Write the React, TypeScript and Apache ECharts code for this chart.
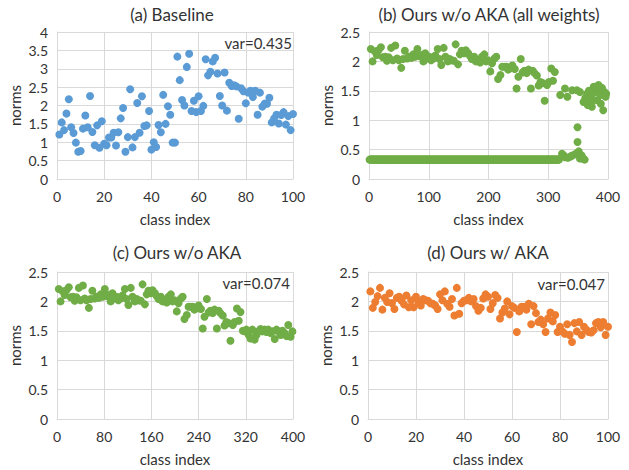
import React, { useEffect, useRef } from "react";
import * as echarts from "echarts";

// (a) Baseline: norms for class index 1..100
const aNorms = [
  1.21, 1.54, 1.33, 1.78, 2.17, 1.41, 1.25, 0.99, 0.74, 0.76,
  1.37, 1.73, 1.41, 2.26, 1.28, 0.92, 1.46, 0.85, 1.57, 0.96,
  0.92, 1.13, 1.13, 1.26, 0.91, 1.27, 1.65, 1.93, 0.74, 1.14,
  2.44, 0.86, 1.14, 2.07, 1.26, 2.25, 1.44, 1.46, 1.85, 0.8,
  1.0, 0.87, 1.47, 1.27, 2.29, 1.5, 1.98, 1.75, 0.99, 0.99,
  3.33, 2.69, 2.15, 2.0, 3.05, 3.41, 1.85, 2.13, 1.82, 2.25,
  1.85, 1.99, 3.26, 2.82, 2.92, 3.2, 3.3, 2.87, 2.26, 2.0,
  2.9, 1.86, 2.62, 2.53, 2.55, 2.52, 1.64, 2.47, 2.39, 2.06,
  2.35, 2.4, 2.23, 2.4, 1.75, 2.35, 1.97, 2.05, 2.05, 2.21,
  1.54, 1.65, 1.75, 1.51, 1.74, 1.82, 1.48, 1.71, 1.33, 1.77,
];

// (d) Ours w/ AKA: norms for class index 1..100
const dNorms = [
  2.17, 1.89, 1.99, 2.09, 2.23, 1.86, 2.06, 1.99, 2.14, 1.97,
  1.87, 2.06, 2.08, 2.01, 1.95, 2.1, 1.9, 2.02, 1.9, 2.08,
  1.99, 1.93, 2.04, 2.02, 2.01, 1.97, 1.96, 1.93, 1.87, 2.12,
  2.02, 2.17, 1.96, 1.91, 2.04, 1.76, 2.23, 1.79, 1.97, 2.01,
  2.02, 2.06, 2.0, 2.04, 1.92, 1.84, 1.89, 2.05, 2.12, 2.08,
  1.87, 1.97, 2.11, 2.06, 1.71, 1.81, 1.88, 2.0, 1.78, 1.92,
  1.89, 1.48, 1.83, 1.91, 1.91, 1.86, 1.96, 1.61, 1.92, 1.8,
  1.65, 1.69, 1.61, 1.48, 1.71, 1.81, 1.66, 1.77, 1.48, 1.57,
  1.49, 1.45, 1.61, 1.43, 1.31, 1.63, 1.49, 1.65, 1.43, 1.57,
  1.52, 1.48, 1.47, 1.51, 1.63, 1.65, 1.56, 1.65, 1.43, 1.57,
];

// (c) Ours w/o AKA: [class index, norm]
const cPoints: [number, number][] = [
  [3, 2.21], [6, 2.0], [10, 2.17], [13, 2.11], [16, 2.19], [20, 2.24], [23, 2.07], [27, 2.08],
  [30, 2.01], [33, 2.07], [37, 2.23], [40, 2.02], [44, 2.27], [47, 2.05], [50, 2.02], [54, 1.89],
  [57, 2.04], [60, 2.18], [64, 2.05], [67, 2.08], [71, 2.06], [74, 2.12], [77, 2.08], [81, 2.21],
  [84, 2.09], [88, 2.11], [91, 2.0], [94, 2.14], [98, 2.05], [101, 2.08], [104, 2.02], [108, 2.05],
  [111, 2.1], [115, 2.21], [118, 2.04], [121, 1.94], [125, 2.23], [128, 2.08], [132, 2.0], [135, 2.04],
  [138, 2.02], [142, 2.01], [145, 2.29], [149, 1.95], [152, 2.12], [155, 2.18], [159, 2.14], [162, 2.19],
  [166, 2.14], [169, 2.09], [172, 2.04], [176, 2.08], [179, 2.0], [182, 2.02], [186, 1.98], [189, 2.08],
  [193, 2.12], [196, 2.0], [199, 2.02], [203, 1.83], [206, 1.97], [210, 2.05], [213, 2.08], [216, 1.7],
  [220, 1.77], [223, 1.91], [227, 1.91], [230, 1.91], [233, 1.86], [237, 1.89], [240, 1.93], [244, 1.87],
  [247, 1.54], [250, 1.74], [254, 2.04], [257, 1.81], [260, 1.84], [264, 1.8], [267, 1.86], [271, 1.54],
  [274, 1.84], [277, 1.8], [281, 1.76], [284, 1.59], [287, 1.65], [291, 1.63], [294, 1.33], [298, 1.6],
  [301, 1.65], [305, 1.88], [308, 1.67], [311, 1.82], [315, 1.5], [318, 1.49], [321, 1.52], [325, 1.43],
  [328, 1.37], [331, 1.52], [335, 1.35], [338, 1.43], [341, 1.49], [345, 1.53], [348, 1.49], [352, 1.52],
  [355, 1.48], [358, 1.52], [362, 1.46], [365, 1.49], [369, 1.36], [372, 1.52], [375, 1.49], [379, 1.43],
  [382, 1.5], [386, 1.46], [389, 1.41], [392, 1.6], [396, 1.4], [399, 1.49],
];

// (b) Ours w/o AKA (all weights): upper-cluster tail beyond class 311
const bUpperTail: [number, number][] = [
  [320, 1.43], [328, 1.54], [332, 1.4], [340, 1.51], [348, 1.51], [353, 1.48], [359, 1.31],
  [365, 1.45], [366, 1.26], [370, 1.4], [373, 1.23], [376, 1.57], [379, 1.48], [382, 1.34],
  [384, 1.6], [387, 1.43], [388, 1.28], [392, 1.17], [394, 1.48], [396, 1.4], [397, 1.45],
  [368, 1.5], [375, 1.35], [380, 1.55], [385, 1.5], [390, 1.55], [362, 1.38], [372, 1.3],
];
// (b) lower cluster: flat band of old-class weights, then scattered tail
const bBaseNorm = 0.33;
const bBaseLastClass = 318;
const bLowTail: [number, number][] = [
  [323, 0.43], [326, 0.4], [328, 0.37], [333, 0.36], [337, 0.38], [340, 0.4], [345, 0.42],
  [348, 0.44], [349, 0.88], [349, 0.63], [351, 0.47], [353, 0.35], [356, 0.4], [359, 0.34], [361, 0.33],
];

const titles = ["(a) Baseline", "(b) Ours w/o AKA (all weights)", "(c) Ours w/o AKA", "(d) Ours w/ AKA"];
const varLabels = ["var=0.435", "", "var=0.074", "var=0.047"];

const BLUE = "#5B9BD5";
const GREEN = "#70AD47";
const ORANGE = "#ED7D31";
const FONT = "Lato";
const TEXT = "#333333";
const GRIDC = "#d9d9d9";

export default function App() {
  const ref = useRef<HTMLDivElement>(null);
  useEffect(() => {
    if (!ref.current) return;
    const chart = echarts.init(ref.current, null, { renderer: "svg" });

    const grids = [
      { left: 57, top: 32, width: 236, height: 147 },
      { left: 369, top: 32, width: 239, height: 147 },
      { left: 57, top: 272, width: 236, height: 147 },
      { left: 368, top: 272, width: 240, height: 147 },
    ];
    const xCfg = [
      { max: 100, interval: 20 },
      { max: 400, interval: 100 },
      { max: 400, interval: 80 },
      { max: 100, interval: 20 },
    ];
    const yCfg = [{ max: 4 }, { max: 2.5 }, { max: 2.5 }, { max: 2.5 }];

    const xAxis = xCfg.map((c, i) => ({
      type: "value",
      gridIndex: i,
      min: 0,
      max: c.max,
      interval: c.interval,
      name: "class index",
      nameLocation: "middle",
      nameGap: 32,
      nameTextStyle: { fontFamily: FONT, fontSize: 15, color: TEXT },
      axisLine: { show: true, lineStyle: { color: GRIDC } },
      axisTick: { show: false },
      axisLabel: { fontFamily: FONT, fontSize: 14, color: TEXT, margin: 10 },
      splitLine: { show: true, lineStyle: { color: GRIDC } },
    }));
    const yAxis = yCfg.map((c, i) => ({
      type: "value",
      gridIndex: i,
      min: 0,
      max: c.max,
      interval: 0.5,
      name: "norms",
      nameLocation: "middle",
      nameGap: 35,
      nameTextStyle: { fontFamily: FONT, fontSize: 15, color: TEXT },
      axisLine: { show: true, lineStyle: { color: GRIDC } },
      axisTick: { show: false },
      axisLabel: { fontFamily: FONT, fontSize: 14, color: TEXT, margin: 9 },
      splitLine: { show: true, lineStyle: { color: GRIDC } },
    }));

    const bBase: [number, number][] = [];
    for (let k = 1; k <= bBaseLastClass; k++) bBase.push([k, bBaseNorm]);
    const bData = [
      ...cPoints.filter((p) => p[0] <= 311),
      ...bUpperTail,
      ...bBase,
      ...bLowTail,
    ];

    const mk = (i: number, data: [number, number][], color: string) => ({
      type: "scatter",
      xAxisIndex: i,
      yAxisIndex: i,
      data,
      symbolSize: 8,
      itemStyle: { color, opacity: 1 },
      silent: true,
    });

    const series = [
      mk(0, aNorms.map((v, k) => [k + 1, v] as [number, number]), BLUE),
      mk(1, bData, GREEN),
      mk(2, cPoints, GREEN),
      mk(3, dNorms.map((v, k) => [k + 1, v] as [number, number]), ORANGE),
    ];

    const titlePos = [
      [172, 14],
      [489, 14],
      [177, 252],
      [488, 252],
    ];
    const varPos = [
      [292, 43],
      [0, 0],
      [290, 283],
      [605, 284],
    ];
    const graphic: any[] = [];
    titles.forEach((t, i) => {
      graphic.push({
        type: "text",
        x: titlePos[i][0],
        y: titlePos[i][1],
        style: {
          text: t,
          fontFamily: FONT,
          fontSize: 17,
          fill: TEXT,
          textAlign: "center",
          textVerticalAlign: "middle",
        },
      });
    });
    varLabels.forEach((t, i) => {
      if (!t) return;
      graphic.push({
        type: "text",
        x: varPos[i][0],
        y: varPos[i][1],
        z: 10,
        style: {
          text: t,
          fontFamily: FONT,
          fontSize: 15,
          fill: TEXT,
          textAlign: "right",
          textVerticalAlign: "middle",
        },
      });
    });

    chart.setOption({
      animation: false,
      backgroundColor: "#ffffff",
      grid: grids,
      xAxis,
      yAxis,
      series,
      graphic,
    });
    return () => chart.dispose();
  }, []);

  return (
    <div
      ref={ref}
      style={{ position: "fixed", left: 0, top: 0, width: 629, height: 470 }}
    />
  );
}
